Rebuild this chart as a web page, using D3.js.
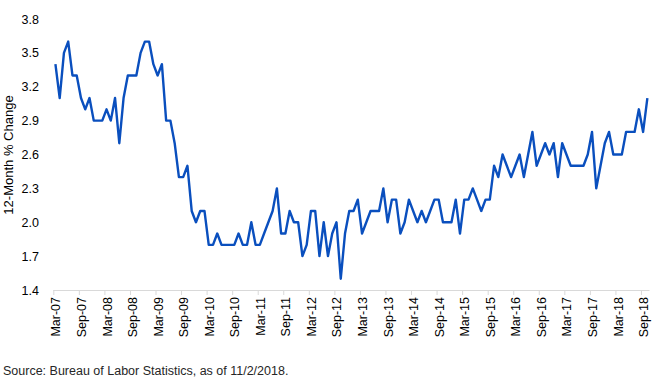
<!DOCTYPE html>
<html>
<head>
<meta charset="utf-8">
<script src="https://cdn.jsdelivr.net/npm/d3@7"></script>
<style>
  body { margin: 0; background: #fff; }
  svg { display: block; font-family: "Liberation Sans", Arial, sans-serif; }
</style>
</head>
<body>
<div class="chart"></div>
<script>
// monthly 12-month % change, Mar-07 .. Oct-18
const startYear = 2007, startMonth = 2; // March (0-based)
const values = [
  3.4, 3.1, 3.5, 3.6, 3.3, 3.3, 3.1, 3.0, 3.1, 2.9,   // Mar-07 .. Dec-07
  2.9, 2.9, 3.0, 2.9, 3.1, 2.7, 3.1, 3.3, 3.3, 3.3, 3.5, 3.6, // 2008
  3.6, 3.4, 3.3, 3.4, 2.9, 2.9, 2.7, 2.4, 2.4, 2.5, 2.1, 2.0, // 2009
  2.1, 2.1, 1.8, 1.8, 1.9, 1.8, 1.8, 1.8, 1.8, 1.9, 1.8, 1.8, // 2010
  2.0, 1.8, 1.8, 1.9, 2.0, 2.1, 2.3, 1.9, 1.9, 2.1, 2.0, 2.0, // 2011
  1.7, 1.8, 2.1, 2.1, 1.7, 2.0, 1.7, 1.9, 2.0, 1.5, 1.9, 2.1, // 2012
  2.1, 2.2, 1.9, 2.0, 2.1, 2.1, 2.1, 2.3, 2.0, 2.2, 2.2, 1.9, // 2013
  2.0, 2.2, 2.1, 2.0, 2.1, 2.0, 2.1, 2.2, 2.2, 2.0, 2.0, 2.0, // 2014
  2.2, 1.9, 2.2, 2.2, 2.3, 2.2, 2.1, 2.2, 2.2, 2.5, 2.4, 2.6, // 2015
  2.5, 2.4, 2.5, 2.6, 2.4, 2.6, 2.8, 2.5, 2.6, 2.7, 2.6, 2.7, // 2016
  2.4, 2.7, 2.6, 2.5, 2.5, 2.5, 2.5, 2.6, 2.8, 2.3, 2.5, 2.7, // 2017
  2.8, 2.6, 2.6, 2.6, 2.8, 2.8, 2.8, 3.0, 2.8, 3.1            // 2018 .. Oct
];
const yTicks = [1.4, 1.7, 2.0, 2.3, 2.6, 2.9, 3.2, 3.5, 3.8];
const monthNames = ["Jan","Feb","Mar","Apr","May","Jun","Jul","Aug","Sep","Oct","Nov","Dec"];

const data = values.map((v, i) => {
  const m = startMonth + i;
  const year = startYear + Math.floor(m / 12);
  return { i, label: monthNames[m % 12] + "-" + String(year % 100).padStart(2, "0"), value: v };
});

const width = 656, height = 389;
const svg = d3.select(".chart").append("svg")
  .attr("width", width)
  .attr("height", height);

// categories sit between tick marks
const x = d3.scaleLinear().domain([0, data.length]).range([53.3, 649.5]);
const y = d3.scaleLinear().domain([1.4, 3.8]).range([290, 19]);
const half = (x(1) - x(0)) / 2;

// y axis labels (no line)
const yAxis = d3.axisLeft(y).tickValues(yTicks).tickFormat(d3.format(".1f")).tickSize(0).tickPadding(0);
const gy = svg.append("g").attr("transform", "translate(39,0)").call(yAxis);
gy.select(".domain").remove();
gy.selectAll("text").attr("font-size", "12.5px").attr("fill", "#000").attr("font-family", null);

// x axis
const tickIdx = data.filter(d => d.i % 6 === 0).map(d => d.i);
const xAxis = d3.axisBottom(x).tickValues(tickIdx)
  .tickFormat(i => data[i].label).tickSizeInner(5).tickSizeOuter(0);
const gx = svg.append("g").attr("transform", "translate(0,290)").call(xAxis);
gx.select(".domain").attr("stroke", "#d9d9d9").attr("d", `M${x(0)},0.5H${x(data.length)}`);
gx.selectAll(".tick line").attr("stroke", "#d9d9d9");
gx.selectAll(".tick text")
  .attr("font-size", "12.5px").attr("fill", "#000").attr("font-family", null)
  .attr("text-anchor", "end")
  .attr("transform", `translate(${half + 4.5},7) rotate(-90)`)
  .attr("x", 0).attr("y", 0).attr("dy", 0);

// y title
svg.append("text")
  .attr("transform", "translate(12.5,155) rotate(-90)")
  .attr("text-anchor", "middle")
  .attr("font-size", "13px")
  .attr("fill", "#000")
  .text("12-Month % Change");

// line
const line = d3.line().x(d => x(d.i) + half).y(d => y(d.value));
svg.append("path").datum(data)
  .attr("fill", "none")
  .attr("stroke", "#0a4fbe")
  .attr("stroke-width", 2.4)
  .attr("stroke-linejoin", "round")
  .attr("d", line);

// source note
svg.append("text")
  .attr("x", 3).attr("y", 375)
  .attr("font-size", "12.5px")
  .attr("fill", "#262626")
  .text("Source: Bureau of Labor Statistics, as of 11/2/2018.");
</script>
</body>
</html>
